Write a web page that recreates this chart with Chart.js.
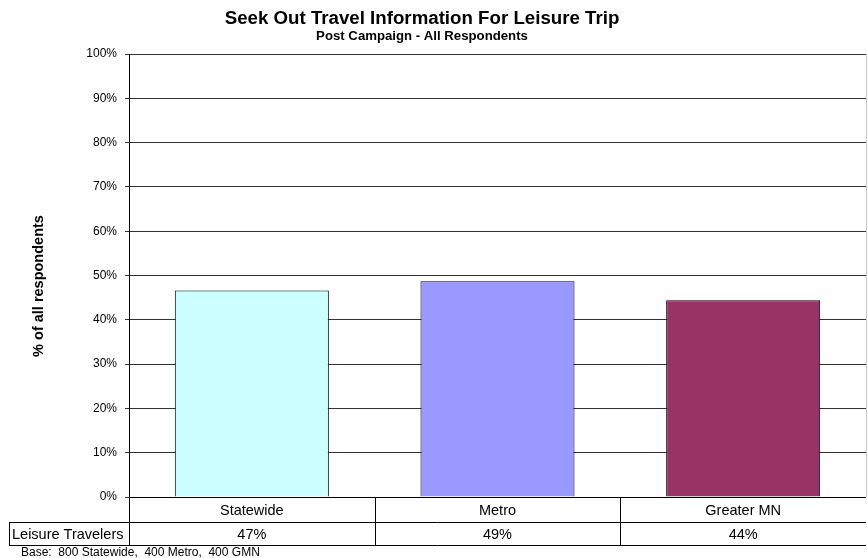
<!DOCTYPE html>
<html lang="en">
<head>
    <meta charset="UTF-8">
    <title>Seek Out Travel Information For Leisure Trip</title>
    <script src="https://cdn.jsdelivr.net/npm/chart.js"></script>
    <style>
        body { margin: 0; background: #fff; }
        canvas { display: block; }
    </style>
</head>
<body>
    <canvas id="leisureChart" width="867" height="558"></canvas>
    <script>
        const chartTitle = 'Seek Out Travel Information For Leisure Trip';
        const chartSubtitle = 'Post Campaign - All Respondents';
        const axisTitle = '% of all respondents';
        const seriesName = 'Leisure Travelers';
        const categories = ['Statewide', 'Metro', 'Greater MN'];
        const leisureTravelers = [46.6, 48.7, 44.4];
        const yTickMin = 0, yTickMax = 100, yTickStep = 10;
        const baseNote = 'Base:  800 Statewide,  400 Metro,  400 GMN';

        const barColors = ['#CCFFFF', '#9999FF', '#993366'];
        const FONT = 'Arial, "Liberation Sans", sans-serif';

        // title, axis title, data table under the bars and the base note
        const extras = {
            id: 'extras',
            afterDraw(chart) {
                const ctx = chart.ctx;
                const area = chart.chartArea;
                const x = chart.scales.x;
                ctx.save();
                ctx.fillStyle = '#000';
                ctx.textAlign = 'center';
                ctx.textBaseline = 'alphabetic';
                ctx.font = 'bold 18.7px ' + FONT;
                ctx.fillText(chartTitle, 422, 24);
                ctx.font = 'bold 13.2px ' + FONT;
                ctx.fillText(chartSubtitle, 422, 40);

                // rotated axis title
                ctx.save();
                ctx.translate(39, 286);
                ctx.rotate(-Math.PI / 2);
                ctx.font = 'bold 14.5px ' + FONT;
                ctx.textBaseline = 'middle';
                ctx.fillText(axisTitle, 0, 0);
                ctx.restore();

                // right border of the plot
                ctx.strokeStyle = '#c8c8c8';
                ctx.lineWidth = 1;
                ctx.beginPath();
                ctx.moveTo(area.right + 0.5, area.top);
                ctx.lineTo(area.right + 0.5, area.bottom);
                ctx.stroke();

                // data table
                const row1 = area.bottom, row2 = row1 + 25, row3 = row2 + 23;
                const labelLeft = 9;
                const colW = (area.right - area.left) / categories.length;
                ctx.strokeStyle = '#000';
                ctx.beginPath();
                ctx.moveTo(area.left, row1 + 0.5); ctx.lineTo(area.right, row1 + 0.5);
                ctx.moveTo(labelLeft, row2 + 0.5); ctx.lineTo(area.right, row2 + 0.5);
                ctx.moveTo(labelLeft, row3 + 0.5); ctx.lineTo(area.right, row3 + 0.5);
                ctx.moveTo(labelLeft + 0.5, row2); ctx.lineTo(labelLeft + 0.5, row3);
                for (let i = 0; i < categories.length; i++) {
                    const cx = Math.round(area.left + i * colW) + 0.5;
                    ctx.moveTo(cx, row1); ctx.lineTo(cx, row3);
                }
                ctx.stroke();

                ctx.font = '14.5px ' + FONT;
                ctx.textBaseline = 'middle';
                categories.forEach((c, i) => {
                    const px = x.getPixelForValue(i);
                    ctx.fillText(c, px, (row1 + row2) / 2 + 1);
                    ctx.fillText(Math.round(leisureTravelers[i]) + '%', px, (row2 + row3) / 2 + 1);
                });
                ctx.textAlign = 'left';
                ctx.fillText(seriesName, 12, (row2 + row3) / 2 + 1);

                ctx.font = '12px ' + FONT;
                ctx.textBaseline = 'alphabetic';
                ctx.fillText(baseNote, 21, 556);
                ctx.restore();
            }
        };

        new Chart(document.getElementById('leisureChart'), {
            type: 'bar',
            data: {
                labels: categories,
                datasets: [{
                    label: seriesName,
                    data: leisureTravelers,
                    backgroundColor: barColors,
                    borderColor: '#000',
                    borderWidth: 1,
                    categoryPercentage: 1,
                    barPercentage: 0.627
                }]
            },
            options: {
                responsive: false,
                animation: false,
                layout: { padding: { top: 54, bottom: 61, left: 0, right: 1 } },
                plugins: {
                    legend: { display: false },
                    tooltip: { enabled: false }
                },
                scales: {
                    x: { display: false },
                    y: {
                        min: yTickMin,
                        max: yTickMax,
                        afterFit(scale) { scale.width = 129; },
                        ticks: {
                            stepSize: yTickStep,
                            padding: 8,
                            color: '#000',
                            font: { family: FONT, size: 12 },
                            callback: v => v + '%'
                        },
                        grid: { color: '#333', tickLength: 4 },
                        border: { color: '#000' }
                    }
                }
            },
            plugins: [extras]
        });
    </script>
</body>
</html>
